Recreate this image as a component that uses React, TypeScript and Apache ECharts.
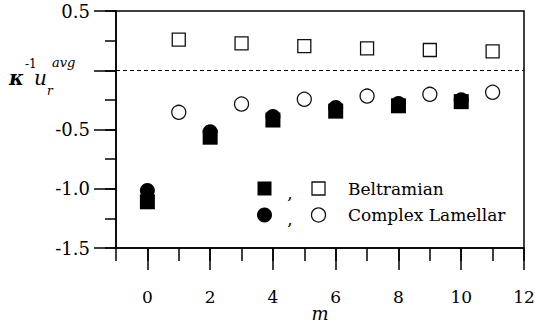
import React, { useEffect, useRef } from "react";
import * as echarts from "echarts";

const evenM = [0, 2, 4, 6, 8, 10];
const oddM = [1, 3, 5, 7, 9, 11];
const beltramianFilled = [-1.11, -0.565, -0.42, -0.345, -0.3, -0.265];
const lamellarFilled = [-1.015, -0.52, -0.39, -0.315, -0.28, -0.248];
const beltramianOpen = [0.258, 0.227, 0.203, 0.185, 0.171, 0.16];
const lamellarOpen = [-0.355, -0.285, -0.245, -0.218, -0.203, -0.186];
const xTickLabels = [0, 2, 4, 6, 8, 10, 12];
const yTickLabels = [0.5, -0.5, -1.0, -1.5];
const legendNames = ["Beltramian", "Complex Lamellar"];

const FONT = "DejaVu Serif";

const txt = (
  x: number,
  y: number,
  text: string,
  size: number,
  italic = false,
  align: string = "left",
  bold = false
) => ({
  type: "text",
  x,
  y,
  style: {
    text,
    fontFamily: FONT,
    fontSize: size,
    fontStyle: italic ? "italic" : "normal",
    fontWeight: bold ? "bold" : "normal",
    fill: "#000",
    align,
    verticalAlign: "middle",
  },
});

export default function App() {
  const ref = useRef<HTMLDivElement>(null);
  useEffect(() => {
    if (!ref.current) return;
    const chart = echarts.init(ref.current, undefined, { renderer: "svg" });
    const pair = (xs: number[], ys: number[]) => xs.map((x, i) => [x, ys[i]]);
    const axisLineStyle = { color: "#000", width: 1.5 };
    const option: any = {
      animation: false,
      backgroundColor: "#fff",
      textStyle: { fontFamily: FONT },
      grid: {
        left: 116,
        top: 11,
        width: 408,
        height: 237,
        show: true,
        borderColor: "#000",
        borderWidth: 1.5,
        containLabel: false,
        outerBoundsMode: "none",
      },
      xAxis: [
        {
          type: "value",
          min: -1,
          max: 12,
          interval: 1,
          axisLine: { show: true, onZero: false, lineStyle: axisLineStyle },
          axisTick: { show: true, length: 13, lineStyle: axisLineStyle },
          axisLabel: { show: false },
          splitLine: { show: false },
        },
        {
          type: "value",
          min: -1,
          max: 12,
          interval: 1,
          position: "bottom",
          axisLine: { show: false, onZero: false },
          axisTick: {
            show: true,
            length: 22,
            customValues: xTickLabels,
            lineStyle: axisLineStyle,
          },
          axisLabel: {
            show: true,
            customValues: xTickLabels,
            margin: 40,
            fontSize: 17,
            fontFamily: FONT,
            color: "#000",
            formatter: (v: number) => String(v),
          },
          splitLine: { show: false },
        },
      ],
      yAxis: [
        {
          type: "value",
          min: -1.5,
          max: 0.5,
          interval: 0.5,
          axisLine: { show: true, onZero: false, lineStyle: axisLineStyle },
          axisTick: { show: true, length: 22, lineStyle: axisLineStyle },
          axisLabel: {
            show: true,
            margin: 26,
            fontSize: 18,
            fontFamily: FONT,
            color: "#000",
            formatter: (v: number) =>
              yTickLabels.some((t) => Math.abs(t - v) < 1e-9) ? v.toFixed(1) : "",
          },
          splitLine: { show: false },
        },
        {
          type: "value",
          min: -1.5,
          max: 0.5,
          interval: 0.25,
          position: "left",
          axisLine: { show: false, onZero: false },
          axisTick: { show: true, length: 11, lineStyle: axisLineStyle },
          axisLabel: { show: false },
          splitLine: { show: false },
        },
      ],
      series: [
        {
          name: legendNames[0] + " filled",
          type: "scatter",
          symbol: "rect",
          symbolSize: 15,
          itemStyle: { color: "#000", opacity: 1 },
          data: pair(evenM, beltramianFilled),
          markLine: {
            silent: true,
            symbol: "none",
            label: { show: false },
            lineStyle: { color: "#000", width: 1, type: [4, 3] },
            data: [{ yAxis: 0 }],
          },
        },
        {
          name: legendNames[1] + " filled",
          type: "scatter",
          symbol: "circle",
          symbolSize: 15,
          itemStyle: { color: "#000", opacity: 1 },
          data: pair(evenM, lamellarFilled),
        },
        {
          name: legendNames[0] + " open",
          type: "scatter",
          symbol: "rect",
          symbolSize: 13,
          itemStyle: { color: "#fff", borderColor: "#111", borderWidth: 1.3, opacity: 1 },
          data: pair(oddM, beltramianOpen),
        },
        {
          name: legendNames[1] + " open",
          type: "scatter",
          symbol: "circle",
          symbolSize: 14,
          itemStyle: { color: "#fff", borderColor: "#111", borderWidth: 1.3, opacity: 1 },
          data: pair(oddM, lamellarOpen),
        },
      ],
      graphic: [
        txt(9, 78, "κ", 20, true, "left", true),
        txt(25, 64, "-1", 12),
        txt(34, 78, "u", 20, true),
        txt(47, 91, "r", 12, true),
        txt(52, 62, "avg", 13, true),
        txt(320, 313, "m", 18, true, "center"),
        { type: "rect", shape: { x: 257.5, y: 181.5, width: 14, height: 14 }, style: { fill: "#000" } },
        txt(290, 193, ",", 17, false, "center"),
        { type: "rect", shape: { x: 312, y: 182, width: 13, height: 13 }, style: { fill: "#fff", stroke: "#111", lineWidth: 1.3 } },
        txt(348, 189, legendNames[0], 17),
        { type: "circle", shape: { cx: 264.5, cy: 215, r: 7.5 }, style: { fill: "#000" } },
        txt(290, 219, ",", 17, false, "center"),
        { type: "circle", shape: { cx: 318.5, cy: 215, r: 7 }, style: { fill: "#fff", stroke: "#111", lineWidth: 1.3 } },
        txt(348, 215, legendNames[1], 17),
      ],
    };
    chart.setOption(option);
    return () => chart.dispose();
  }, []);
  return (
    <div
      ref={ref}
      style={{ position: "fixed", left: 0, top: 0, width: 535, height: 331, background: "#fff" }}
    />
  );
}
